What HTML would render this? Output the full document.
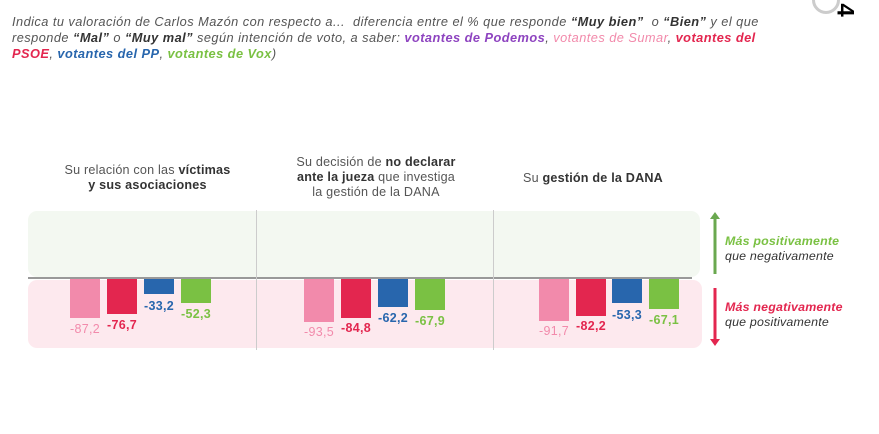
<!DOCTYPE html>
<html><head><meta charset="utf-8"><style>
body{margin:0;width:879px;height:434px;background:#fff;position:relative;overflow:hidden;font-family:"Liberation Sans",sans-serif}
.a{position:absolute}
.hd{left:12px;top:14px;width:860px;font-size:12.8px;letter-spacing:0.45px;line-height:16px;font-style:italic;color:#555;white-space:nowrap}
.hd b{color:#333}
.t{font-size:12.6px;letter-spacing:0.2px;line-height:15px;color:#555;text-align:center}
.t b{color:#333}
.bar{position:absolute;top:279px;width:30px}
.v{position:absolute;font-size:12.5px;font-weight:bold;width:44px;text-align:center;letter-spacing:0.3px}
.lg{font-size:12.4px;line-height:15px;font-style:italic;color:#333;letter-spacing:0.2px}
</style></head><body>
<div class="a hd">Indica tu valoración de Carlos Mazón con respecto a... &nbsp;diferencia entre el % que responde <b>“Muy bien”</b> &nbsp;o <b>“Bien”</b> y el que<br>responde <b>“Mal”</b> o <b>“Muy mal”</b> según intención de voto, a saber: <b style="color:#8e44c0">votantes de Podemos</b>, <b style="color:#f28aab;font-weight:normal">votantes de Sumar</b>, <b style="color:#e3264f">votantes del</b><br><b style="color:#e3264f">PSOE</b>, <b style="color:#2866ad">votantes del PP</b>, <b style="color:#7ac143">votantes de Vox</b>)</div>
<div class="a" style="left:812px;top:-14px;width:22px;height:22px;border:3px solid #ccc;border-radius:50%"></div>
<div class="a" style="left:838px;top:-4px;font-size:24px;font-weight:bold;transform:rotate(90deg)">4</div>

<div class="a t" style="left:35px;top:163px;width:225px">Su relación con las <b>víctimas<br>y sus asociaciones</b></div>
<div class="a t" style="left:262px;top:155px;width:228px">Su decisión de <b>no declarar<br>ante la jueza</b> que investiga<br>la gestión de la DANA</div>
<div class="a t" style="left:498px;top:171px;width:190px">Su <b>gestión de la DANA</b></div>

<div class="a" style="left:28px;top:211px;width:672px;height:66px;background:#f3f8f1;border-radius:9px"></div>
<div class="a" style="left:28px;top:280px;width:674px;height:68px;background:#fde9ee;border-radius:9px"></div>
<div class="a" style="left:28px;top:277px;width:664px;height:2px;background:#999"></div>
<div class="a" style="left:256px;top:210px;width:1px;height:140px;background:#ccc"></div>
<div class="a" style="left:493px;top:210px;width:1px;height:140px;background:#ccc"></div>

<div class="bar" style="left:70px;height:39px;background:#f28aab"></div>
<div class="bar" style="left:107px;height:35px;background:#e3264f"></div>
<div class="bar" style="left:144px;height:15px;background:#2866ad"></div>
<div class="bar" style="left:181px;height:24px;background:#7ac143"></div>
<div class="v" style="left:63px;top:322px;color:#f28aab;font-weight:normal">-87,2</div>
<div class="v" style="left:100px;top:318px;color:#e3264f">-76,7</div>
<div class="v" style="left:137px;top:299px;color:#2866ad">-33,2</div>
<div class="v" style="left:174px;top:307px;color:#7ac143">-52,3</div>

<div class="bar" style="left:304px;height:43px;background:#f28aab"></div>
<div class="bar" style="left:341px;height:39px;background:#e3264f"></div>
<div class="bar" style="left:378px;height:28px;background:#2866ad"></div>
<div class="bar" style="left:415px;height:31px;background:#7ac143"></div>
<div class="v" style="left:297px;top:325px;color:#f28aab;font-weight:normal">-93,5</div>
<div class="v" style="left:334px;top:321px;color:#e3264f">-84,8</div>
<div class="v" style="left:371px;top:311px;color:#2866ad">-62,2</div>
<div class="v" style="left:408px;top:314px;color:#7ac143">-67,9</div>

<div class="bar" style="left:539px;height:42px;background:#f28aab"></div>
<div class="bar" style="left:576px;height:37px;background:#e3264f"></div>
<div class="bar" style="left:612px;height:24px;background:#2866ad"></div>
<div class="bar" style="left:649px;height:30px;background:#7ac143"></div>
<div class="v" style="left:532px;top:324px;color:#f28aab;font-weight:normal">-91,7</div>
<div class="v" style="left:569px;top:319px;color:#e3264f">-82,2</div>
<div class="v" style="left:605px;top:308px;color:#2866ad">-53,3</div>
<div class="v" style="left:642px;top:313px;color:#7ac143">-67,1</div>

<svg class="a" style="left:705px;top:212px" width="20" height="136">
<line x1="10" y1="6" x2="10" y2="62" stroke="#6aa84f" stroke-width="3"/>
<polygon points="5,7 15,7 10,0" fill="#6aa84f"/>
<line x1="10" y1="76" x2="10" y2="128" stroke="#e3264f" stroke-width="3"/>
<polygon points="5,127 15,127 10,134" fill="#e3264f"/>
</svg>
<div class="a lg" style="left:725px;top:234px"><b style="color:#7ac143">Más positivamente</b><br>que negativamente</div>
<div class="a lg" style="left:725px;top:300px"><b style="color:#e3264f">Más negativamente</b><br>que positivamente</div>
</body></html>
